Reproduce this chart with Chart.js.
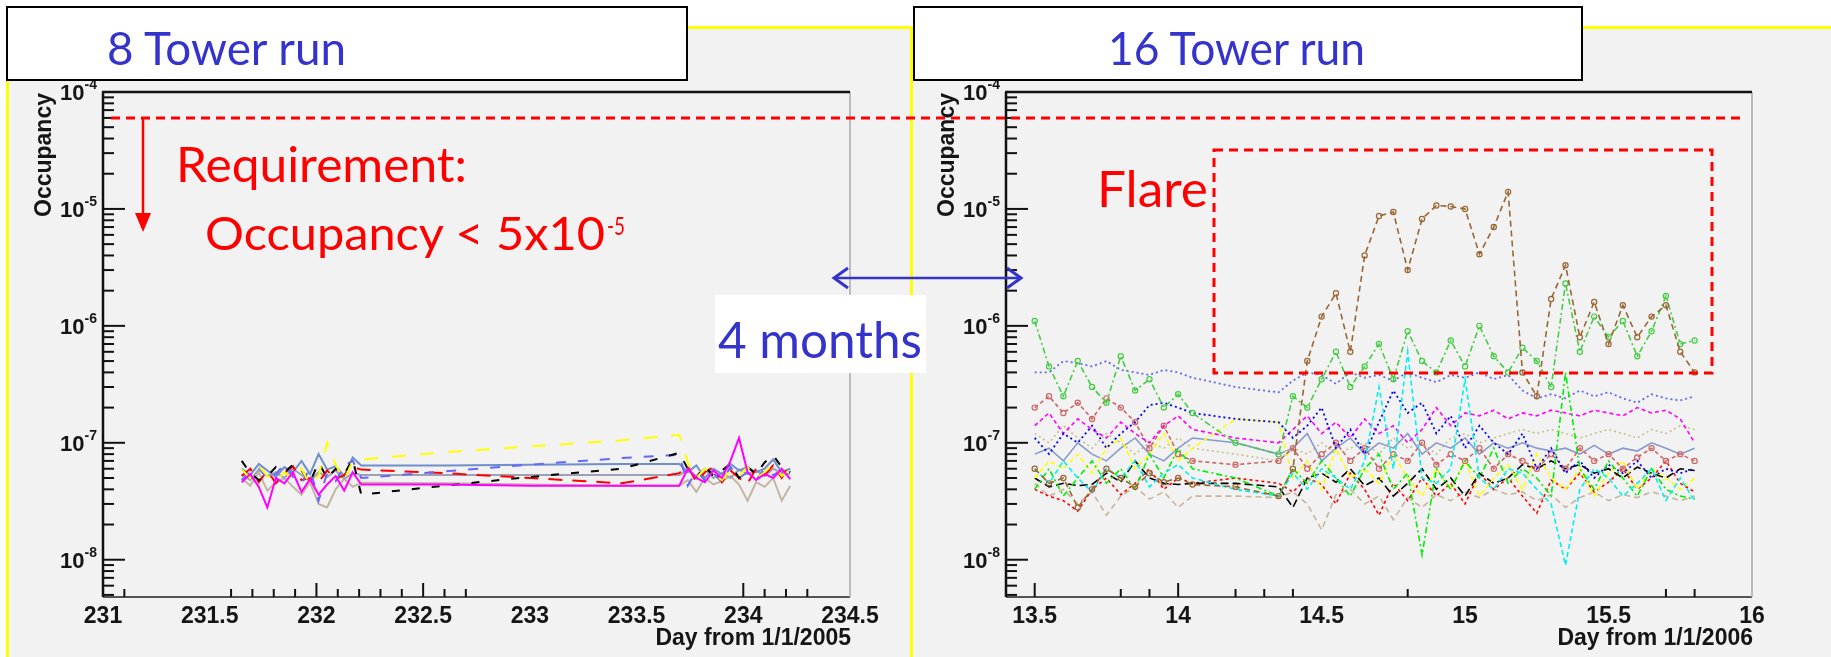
<!DOCTYPE html>
<html>
<head>
<meta charset="utf-8">
<script src="https://cdn.jsdelivr.net/npm/chart.js@4.4.1/dist/chart.umd.min.js"></script>
<style>
  html, body { margin: 0; padding: 0; background: #fff; }
  body { position: relative; width: 1831px; height: 657px; overflow: hidden; }
  .panel { position: absolute; background: #f2f2f2; border-left: 3px solid #ffff00; border-top: 3px solid #ffff00; }
  canvas { position: absolute; }
  .title { position: absolute; background: #fff; border: 2px solid #000; box-sizing: border-box; }
  svg { position: absolute; left: 0; top: 0; }
</style>
</head>
<body>
<div class="panel" style="left:6px;top:26px;width:904px;height:640px"></div>
<div class="panel" style="left:910px;top:26px;width:930px;height:640px"></div>
<canvas id="run8" width="904" height="630" style="left:8px;top:27px"></canvas>
<canvas id="run16" width="919" height="630" style="left:912px;top:27px"></canvas>
<div class="title" style="left:6px;top:6px;width:682px;height:75px"></div>
<div class="title" style="left:913px;top:6px;width:670px;height:75px"></div>

<svg width="1831" height="657" viewBox="0 0 1831 657">
  <!-- requirement line and arrow -->
  <line x1="111" y1="118" x2="1744" y2="118" stroke="#ff0000" stroke-width="3" stroke-dasharray="9 6"/>
  <line x1="143" y1="118" x2="143" y2="216" stroke="#ff0000" stroke-width="2.5"/>
  <polygon points="135,213 151,213 143,232" fill="#ff0000"/>
  <!-- flare box -->
  <rect x="1214" y="150" width="498" height="223" fill="none" stroke="#ff0000" stroke-width="3" stroke-dasharray="9 6"/>
  <!-- 4 months -->
  <line x1="834" y1="278" x2="1021" y2="278" stroke="#3434cc" stroke-width="2.5"/>
  <polyline points="848,268 834,278 848,288" fill="none" stroke="#3434cc" stroke-width="3"/>
  <polyline points="1007,268 1021,278 1007,288" fill="none" stroke="#3434cc" stroke-width="3"/>
  <rect x="715" y="295" width="211" height="78" fill="#fff"/>
  <g font-family="Lato, 'Open Sans', sans-serif">
    <text x="107" y="65" font-size="46" fill="#3434cc" textLength="239" lengthAdjust="spacingAndGlyphs">8 Tower run</text>
    <text x="1108" y="65" font-size="46" fill="#3434cc" textLength="257" lengthAdjust="spacingAndGlyphs">16 Tower run</text>
    <text x="176" y="182" font-size="49" fill="#ff0000" textLength="291" lengthAdjust="spacingAndGlyphs">Requirement:</text>
    <text x="205" y="250" font-size="46" fill="#ff0000" textLength="400" lengthAdjust="spacingAndGlyphs">Occupancy &lt; 5x10</text>
    <text x="607" y="235" font-size="25" fill="#ff0000" textLength="18" lengthAdjust="spacingAndGlyphs">-5</text>
    <text x="718" y="358" font-size="50" fill="#3434cc" textLength="204" lengthAdjust="spacingAndGlyphs">4 months</text>
    <text x="1097" y="207" font-size="51" fill="#ff0000" textLength="111" lengthAdjust="spacingAndGlyphs">Flare</text>
  </g>
</svg>

<script>
// occupancy values are read in units of 1e-8
const OCC_UNIT = 1e-8;
const Y_MIN = 4.8e-9;
const Y_MAX = 1e-4;
const Y_DECADES = [-8, -7, -6, -5, -4];

// ---- 8 tower run (day from 1/1/2005)
const DAYS_8 = [231.65, 231.69, 231.73, 231.77, 231.81, 231.85, 231.89, 231.93, 231.97, 232.01, 232.05, 232.09, 232.13, 232.17, 232.21,
                232.60, 233.00, 233.43,
                233.70, 233.74, 233.78, 233.82, 233.86, 233.90, 233.94, 233.98, 234.02, 234.06, 234.10, 234.14, 234.18, 234.22];
const OCC8_BLACK   = [7.0,5.5,4.8,5.2,6.2,5.6,6.5,5.8,4.6,6.8,5.0,6.0,5.4,7.2,3.6, 4.3,5.1,6.0, 8.2,6.0,5.0,6.3,5.2,5.8,6.6,5.0,6.2,5.4,6.8,7.8,6.2,5.6];
const OCC8_RED     = [5.2,6.0,4.6,5.8,4.5,5.5,6.3,4.8,5.0,4.6,5.8,4.9,5.3,6.2,5.9, 5.5,5.0,4.5, 5.5,6.3,4.6,5.6,6.2,4.6,5.8,5.0,4.5,6.0,5.3,6.4,5.0,6.6];
const OCC8_BLUE    = [4.8,5.6,6.2,4.9,5.4,6.6,5.1,4.5,6.0,3.2,5.5,4.7,6.4,7.0,5.0, 5.7,6.5,7.4, 7.9,4.3,5.8,4.8,5.5,4.6,6.2,5.0,5.6,4.8,6.0,5.3,5.8,5.2];
const OCC8_YELLOW  = [5.9,5.0,6.3,5.2,4.7,5.6,4.9,6.0,4.4,5.2,10.0,6.5,4.8,7.0,7.2, 8.3,9.3,10.5, 11.7,6.8,5.0,6.0,5.4,4.8,5.8,5.2,6.2,5.0,5.6,6.6,5.2,5.9];
const OCC8_MAGENTA = [4.6,5.4,4.2,2.8,5.0,4.5,5.6,3.8,4.9,3.6,4.4,5.2,3.9,5.6,4.4, 4.4,4.3,4.3, 4.3,6.0,5.0,4.6,5.8,5.0,7.0,11.0,5.6,4.8,5.4,5.0,6.0,4.9];
const OCC8_TAN     = [5.0,4.3,5.6,3.9,4.6,5.0,4.2,3.6,4.6,3.0,2.8,4.0,4.9,4.2,4.55, 4.5,4.4,4.3, 4.3,4.8,3.8,5.0,4.4,4.7,5.2,4.4,3.2,4.6,4.2,5.0,3.2,4.3];
const OCC8_STEEL   = [6.0,5.3,6.6,5.8,5.1,6.2,5.6,7.0,5.4,8.0,5.9,6.3,5.2,7.5,6.4, 6.4,6.5,6.6, 6.6,5.6,6.4,5.0,6.0,5.4,6.6,5.8,6.2,5.6,6.0,7.2,5.6,6.0];
const OCC8_GREY    = [5.4,4.8,5.9,5.2,5.6,5.0,6.0,5.3,4.7,5.6,5.1,5.8,4.9,5.5,5.3, 5.3,5.3,5.3, 5.3,5.8,5.2,6.0,5.0,5.5,5.0,5.9,5.4,5.8,5.2,6.0,5.5,5.4];
const X_LABELS_8 = [231, 231.5, 232, 232.5, 233, 233.5, 234, 234.5];
const X_MAJOR_8 = [232, 232.5, 234];
const X_MINOR_8 = [231.1, 231.6, 231.7, 231.8, 231.9, 232.1, 232.2, 232.3, 232.4, 232.6, 232.7, 234.1, 234.2, 234.3];

// ---- 16 tower run (day from 1/1/2006)
const DAYS_16 = [13.50, 13.55, 13.60, 13.65, 13.70, 13.75, 13.80, 13.85, 13.90, 13.95, 14.00, 14.05,
                 14.20,
                 14.35, 14.40, 14.45, 14.50, 14.55, 14.60, 14.65, 14.70, 14.75, 14.80, 14.85, 14.90, 14.95, 15.00,
                 15.05, 15.10, 15.15, 15.20, 15.25, 15.30, 15.35, 15.40, 15.45, 15.50, 15.55, 15.60, 15.65, 15.70, 15.75, 15.80];
const OCC16_BROWN   = [6,4.5,5,2.8,4,6,5,4.2,5.5,4.6,5,4.4, 4.2, 3.5,6,50,120,190,60,400,870,940,300,820,1070,1050,1000,410,700,1400,40,25,170,330,80,160,70,150,80,120,150,60,40];
const OCC16_LTGREEN = [110,45,25,50,30,22,55,28,35,20,26,18, 10, 8,25,20,35,60,30,45,70,35,90,50,40,75,45,100,55,40,65,50,30,230,60,120,80,110,55,90,180,70,75];
const OCC16_SLATE   = [40,40,50,48,45,50,42,40,38,42,40,36, 30, 27,34,40,38,32,40,36,38,34,40,36,33,38,36,40,35,38,28,24,26,24,28,25,27,24,22,26,24,23,25];
const OCC16_BLUE    = [11,8,12,10,14,9,12,15,21,22,20,18, 16, 15,11,14,20,9,13,8,15,28,18,22,12,17,9,14,10,8,12,6,9,5.5,7,5,6.5,5.5,7,5,6,5.5,6];
const OCC16_MAGENTA = [14,18,12,16,13,11,15,12,10,14,17,13, 11, 10,13,17,12,15,11,16,12,14,10,13,20,14,18,17,19,16,18,17,19,18,17,19,18,17,20,18,19,16,10];
const OCC16_SALMON  = [20,25,18,22,16,24,20,15,9,14,8,7, 6.5, 7,9,6,8,10,7,9,6,8,7,10,6.5,8,7,9,6,8,7,6,8,6,9,7,8,6,7.5,9,7,8,7];
const OCC16_YELLOW  = [5,7,6,8,5.5,9,11,6,8,12,7,9, 16, 15,5,7,4,9,5,6,4.5,8,5,3.5,6,4,7,3.5,5,6.5,4,8,5,4,6,3.5,5.5,7,4,6,5,4,5];
const OCC16_GREEN   = [4,6,3.5,5,7,4.5,6,4,8,5,9,6, 5, 3.5,6,4.5,7,5,3.5,6,8,4,5.5,1.1,6,4,7,5,9,4.5,6,5,3.5,40,6,4,7,5,3.5,6,4,3.5,3.3];
const OCC16_CYAN    = [6,4.5,7,5,3.8,6,5,7,4.2,5.5,6.5,5, 4, 3.5,5.5,4,6,5,4,7,30,6,60,5,4.5,6,35,5,4,6,5.5,4,3,0.9,4,6,5,3.5,4.5,6,3.2,5,3.2];
const OCC16_BLACK   = [5,4.2,4.5,4.3,4.4,5.5,4.6,7,5,4.5,4.4,4.5, 4.5, 4.2,2.8,5,5.5,4.6,6,4.3,5,3.5,4.5,6,4,5,3.5,5.5,4.5,5,6.5,6,7,6,6.5,5.5,6,5,6.2,5.5,5,6,5.8];
const OCC16_RED     = [4,3.5,3.2,2.6,4,5,3.6,4.5,6,4,5,4.5, 5, 4.5,3.8,5,4.4,3,5.5,4,2.4,4.5,3.2,5,3.5,4.5,3,5.5,4,5,3.5,2.5,4.8,4,5.5,3.8,4.6,6,4,5,7,4.5,3.8];
const OCC16_TAN     = [4.5,3.5,4,3,3.8,2.4,3.5,4.2,3.3,3.8,2.8,3.5, 3.5, 3.4,3.8,3,1.8,3.6,4,3,3.5,2.2,3.4,2.8,3.6,3.2,3.8,3.4,4,3.6,3.8,3.2,3.6,2.8,3.4,3.8,3.2,3.6,3.4,3.8,3.5,3.2,3.5];
const OCC16_GREYBLU = [8,9,7,10,8,7,9,11,8,7,9,11, 10, 8,9,12,7,9,11,8,10,9,12,8,10,9,11,8,10,9,10,9,8.5,9,8,9.5,8,9,8.5,10,9,8,9];
const OCC16_KHAKI   = [12,10,14,11,9,12,10,8,10,9,11,9, 8, 7,9,8,10,8,9,10,8,11,9,10,8,11,12,10,11,12,13,12,13,12,11,12,13,12,11,13,12,14,13];
const X_LABELS_16 = [13.5, 14, 14.5, 15, 15.5, 16];
const X_MAJOR_16 = [13.5, 14];
const X_MINOR_16 = [13.8, 13.9, 14.2, 14.3, 14.4, 14.8, 15.7, 15.8];

function toPoints(days, occ) {
  return days.map((d, i) => ({ x: d, y: occ[i] * OCC_UNIT }));
}

function series(days, occ, color, dash, width, circles) {
  return {
    data: toPoints(days, occ),
    borderColor: color,
    borderWidth: width,
    borderDash: dash,
    pointRadius: circles ? 2.6 : 0,
    pointStyle: 'circle',
    pointBackgroundColor: 'rgba(0,0,0,0)',
    pointBorderColor: color,
    pointBorderWidth: 1.2,
    fill: false,
    tension: 0
  };
}

function strokeLine(ctx, x1, y1, x2, y2, color, w) {
  ctx.strokeStyle = color;
  ctx.lineWidth = w;
  ctx.beginPath();
  ctx.moveTo(x1, y1);
  ctx.lineTo(x2, y2);
  ctx.stroke();
}

// ROOT-like frame: ticks inside the frame, 10^n labels, axis titles
const rootFrame = {
  id: 'rootFrame',
  afterDatasetsDraw(chart, _args, opts) {
    const { ctx, chartArea: a } = chart;
    const xs = chart.scales.x, ys = chart.scales.y;
    ctx.save();
    ctx.lineCap = 'butt';

    strokeLine(ctx, a.left, a.bottom, a.right, a.bottom, '#555', 2);
    strokeLine(ctx, a.right, a.top, a.right, a.bottom, '#aaa', 1.5);
    strokeLine(ctx, a.left - 1, a.top, a.right, a.top, '#111', 2.5);
    strokeLine(ctx, a.left, a.top, a.left, a.bottom, '#111', 2.5);

    // y ticks
    for (let d = -9; d <= -4; d++) {
      for (let m = 1; m <= 9; m++) {
        const v = m * Math.pow(10, d);
        if (v < ys.min || v > ys.max * 1.0001) continue;
        const py = ys.getPixelForValue(v);
        strokeLine(ctx, a.left, py, a.left + (m === 1 ? 22 : 11), py, '#111', 2);
      }
    }
    // x ticks
    opts.major.forEach(v => {
      const px = xs.getPixelForValue(v);
      strokeLine(ctx, px, a.bottom, px, a.bottom - 14, '#111', 2);
    });
    opts.minor.forEach(v => {
      const px = xs.getPixelForValue(v);
      strokeLine(ctx, px, a.bottom, px, a.bottom - 8, '#111', 2);
    });

    ctx.fillStyle = '#151515';
    // y labels 10^n
    Y_DECADES.forEach(d => {
      const py = ys.getPixelForValue(Math.pow(10, d));
      ctx.font = 'bold 14px "Liberation Sans", Arial, sans-serif';
      const exp = String(d);
      const ew = ctx.measureText(exp).width;
      ctx.textAlign = 'right';
      ctx.textBaseline = 'alphabetic';
      ctx.fillText(exp, a.left - 6, py - 3);
      ctx.font = 'bold 22px "Liberation Sans", Arial, sans-serif';
      ctx.textBaseline = 'middle';
      ctx.fillText('10', a.left - 6 - ew, py + 2);
    });

    // x labels
    ctx.font = 'bold 23px "Liberation Sans", Arial, sans-serif';
    ctx.textAlign = 'center';
    ctx.textBaseline = 'top';
    opts.labels.forEach(v => {
      ctx.fillText(String(v), xs.getPixelForValue(v), a.bottom + 8);
    });

    // axis titles
    ctx.textAlign = 'right';
    ctx.textBaseline = 'alphabetic';
    ctx.fillText(opts.xTitle, a.right + 1, a.bottom + 48);

    ctx.translate(a.left - 58, a.top + 1);
    ctx.rotate(-Math.PI / 2);
    ctx.textAlign = 'right';
    ctx.textBaseline = 'middle';
    ctx.fillText('Occupancy', 0, 0);
    ctx.restore();
  }
};

function makeChart(id, datasets, xMin, xMax, padding, frameOpts) {
  return new Chart(document.getElementById(id).getContext('2d'), {
    type: 'line',
    data: { datasets },
    plugins: [rootFrame],
    options: {
      responsive: false,
      animation: false,
      events: [],
      layout: { padding },
      plugins: {
        legend: { display: false },
        tooltip: { enabled: false },
        rootFrame: frameOpts
      },
      scales: {
        x: { type: 'linear', min: xMin, max: xMax, display: false },
        y: { type: 'logarithmic', min: Y_MIN, max: Y_MAX, display: false }
      }
    }
  });
}

makeChart('run8', [
  series(DAYS_8, OCC8_MAGENTA, '#ff00ff', [], 2),
  series(DAYS_8, OCC8_YELLOW, '#ffff00', [14, 14], 2),
  series(DAYS_8, OCC8_BLACK, '#000000', [8, 12], 2),
  series(DAYS_8, OCC8_BLUE, '#6666ff', [10, 12], 2),
  series(DAYS_8, OCC8_RED, '#ff0000', [14, 10], 2),
  series(DAYS_8, OCC8_STEEL, '#6f8fcc', [], 2),
  series(DAYS_8, OCC8_GREY, '#a0a0b4', [], 2),
  series(DAYS_8, OCC8_TAN, '#c4b4a4', [], 2)
], 231, 234.5, { left: 95, top: 65, right: 62, bottom: 60 },
  { major: X_MAJOR_8, minor: X_MINOR_8, labels: X_LABELS_8, xTitle: 'Day from 1/1/2005' });

makeChart('run16', [
  series(DAYS_16, OCC16_BROWN, '#996633', [6, 4], 1.6, true),
  series(DAYS_16, OCC16_LTGREEN, '#44cc44', [6, 3, 2, 3], 1.6, true),
  series(DAYS_16, OCC16_CYAN, '#00f0f0', [5, 3], 1.6),
  series(DAYS_16, OCC16_GREEN, '#00ee00', [6, 3, 2, 3], 1.6),
  series(DAYS_16, OCC16_SLATE, '#6666ee', [2, 3], 1.8),
  series(DAYS_16, OCC16_BLUE, '#0000ff', [2, 3], 1.8),
  series(DAYS_16, OCC16_MAGENTA, '#ff00ff', [4, 3], 1.6),
  series(DAYS_16, OCC16_SALMON, '#cc6666', [4, 3], 1.6, true),
  series(DAYS_16, OCC16_YELLOW, '#ffff00', [5, 3], 1.6),
  series(DAYS_16, OCC16_BLACK, '#000000', [8, 4], 1.6),
  series(DAYS_16, OCC16_RED, '#ff0000', [3, 3], 1.6),
  series(DAYS_16, OCC16_TAN, '#c8b49a', [6, 4], 1.6),
  series(DAYS_16, OCC16_GREYBLU, '#8899cc', [], 1.6),
  series(DAYS_16, OCC16_KHAKI, '#c8c08c', [2, 3], 1.6)
], 13.4, 16, { left: 94, top: 65, right: 79, bottom: 60 },
  { major: X_MAJOR_16, minor: X_MINOR_16, labels: X_LABELS_16, xTitle: 'Day from 1/1/2006' });
</script>
</body>
</html>
